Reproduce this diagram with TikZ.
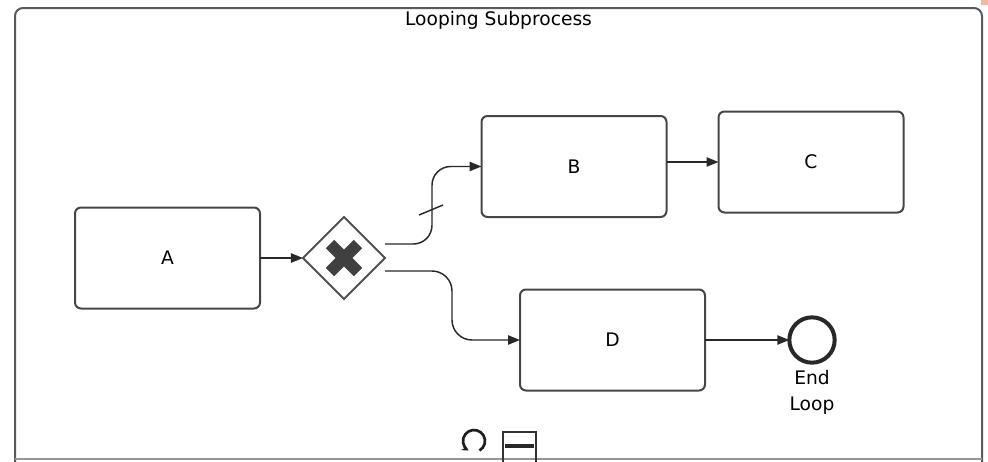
\documentclass[tikz,border=0pt]{standalone}
\usepackage{fontspec}
\setmainfont{DejaVu Sans}
\usepackage{tikz}
\usetikzlibrary{arrows.meta}
\usetikzlibrary{calc}
\usetikzlibrary{shapes.geometric}

\tikzset{
  task/.style={draw={rgb, 255:red, 70; green, 70; blue, 70}, line width=1.5pt, rounded corners=4.5pt,
    minimum width=138.75pt, minimum height=75.75pt, inner sep=0.75pt, outer sep=0pt,
    font=\fontsize{14}{17}\selectfont},
  flow/.style={draw={rgb, 255:red, 40; green, 40; blue, 40}, line width=1.1pt,
    -{Triangle[length=9pt,width=7pt]}},
  xgate/.style={diamond, draw={rgb, 255:red, 80; green, 80; blue, 80}, line width=1.5pt,
    minimum size=61.5pt, inner sep=0pt, outer sep=0pt, fill=white},
  xmark/.style={draw={rgb, 255:red, 64; green, 64; blue, 64}, line width=9pt},
  endevent/.style={circle, draw={rgb, 255:red, 40; green, 40; blue, 40}, line width=3pt,
    minimum size=34pt, inner sep=0pt, outer sep=0pt},
  lbl/.style={inner sep=0.75pt, font=\fontsize{14}{19.5}\selectfont, align=center}
}

\begin{document}
\begin{tikzpicture}[x=0.75pt,y=0.75pt,yscale=-1,xscale=1]
\useasboundingbox (0,0) rectangle (988,461);
\clip (0,0) rectangle (988,461);

%Shape: Subprocess border
\draw [color={rgb, 255:red, 90; green, 90; blue, 90 }, line width=1.5pt, rounded corners=6pt] (15,470) |- (982,8) -- (982,470) ;
\draw [color={rgb, 255:red, 150; green, 150; blue, 150 }, line width=1pt] (15,459) -- (982,459) ;
%Shape: corner handle
\fill [color={rgb, 255:red, 248; green, 184; blue, 160 }] (981,0) rectangle (988,5) ;

% Text Node
\node [lbl] (title) at (498.5,20) {Looping Subprocess};

%Tasks
\node [task] (A) at (167.5,258) {A};
\node [task] (B) at (574,166.5) {B};
\node [task] (C) at (811,162) {C};
\node [task] (D) at (612.5,340) {D};

%Gateway
\node [xgate] (gw) at (344,258) {};
\draw [xmark] ($(gw)+(-14,-14)$) -- ($(gw)+(14,14)$) ;
\draw [xmark] ($(gw)+(-14,14)$) -- ($(gw)+(14,-14)$) ;

%End event
\node [endevent] (endev) at (812,340) {};
\node [lbl, anchor=north] (endlbl) at ($(endev.south)+(0,6)$) {End\\Loop};

%Flows
\coordinate (gwup) at ($(gw.east)+(0,-14)$);
\coordinate (gwdn) at ($(gw.east)+(0,13)$);
\draw [flow] (A) -- (gw) ;
\draw [flow, rounded corners=14pt] (gwup) -- ++(47,0) |- (B.west) ;
\draw [flow, rounded corners=15pt] (gwdn) -- ++(67,0) |- (D.west) ;
\draw [flow] (B.east |- C) -- (C.west) ;
\draw [flow] (D) -- (endev) ;
%Default flow slash
\draw [color={rgb, 255:red, 40; green, 40; blue, 40 }, line width=1.1pt] (419,215) -- (443,205) ;

%Loop marker
\draw [color={rgb, 255:red, 30; green, 30; blue, 30 }, line width=2pt, -{Stealth[length=5pt,width=5pt]}] ($(474,441)+(60:11)$) arc [start angle=60, end angle=-240, radius=11] ;
%Collapsed marker
\draw [color={rgb, 255:red, 50; green, 50; blue, 50 }, line width=1.2pt] (503,432) rectangle (536,470) ;
\draw [color={rgb, 255:red, 40; green, 40; blue, 40 }, line width=2.5pt] (505,446) -- (534,446) ;

\end{tikzpicture}
\end{document}
